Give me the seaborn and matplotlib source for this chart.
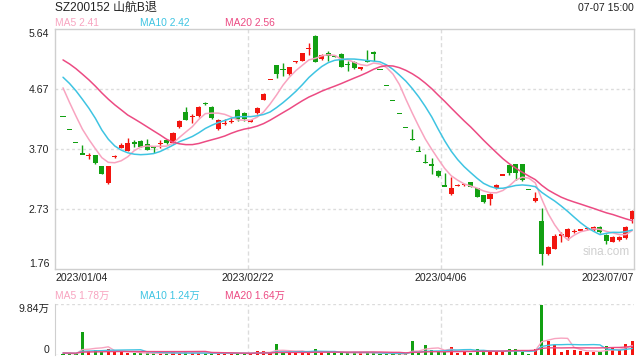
import numpy as np
import pandas as pd
import matplotlib
matplotlib.use("Agg")
import matplotlib.pyplot as plt
import seaborn as sns

sns.set_style("white")
plt.rcParams['font.family'] = ['Liberation Sans', 'Noto Sans CJK SC', 'DejaVu Sans']

# ---------------- data ----------------
opens = [4.22, 4.01, 3.81, 3.62, 3.59, 3.60, 3.43, 3.15, 3.57, 3.72,
         3.67, 3.81, 3.83, 3.78, 3.74, 3.78, 3.84, 3.79, 4.06, 4.30,
         4.21, 4.23, 4.45, 4.38, 4.02, 4.11, 4.15, 4.33, 4.29, 4.14,
         4.29, 4.49, 4.82, 5.06, 4.99, 4.91, 5.10, 5.13, 5.32, 5.52,
         5.16, 5.25, 5.21, 5.24, 5.07, 5.10, 4.99, 5.13, 5.27, 4.98,
         4.73, 4.49, 4.27, 4.05, 3.85, 3.66, 3.48, 3.45, 3.35, 3.10,
         2.98, 3.11, 3.11, 3.16, 3.07, 2.96, 2.89, 3.07, 3.28, 3.44,
         3.45, 3.45, 3.04, 2.86, 2.54, 2.01, 2.09, 2.30, 2.27, 2.36,
         2.38, 2.40, 2.39, 2.44, 2.31, 2.20, 2.23, 2.26, 2.57]
highs = [4.22, 4.01, 3.81, 3.77, 3.63, 3.60, 3.43, 3.43, 3.61, 3.80,
         3.87, 3.85, 3.85, 3.86, 3.74, 3.84, 3.85, 3.98, 4.17, 4.38,
         4.27, 4.39, 4.46, 4.40, 4.19, 4.18, 4.21, 4.35, 4.30, 4.17,
         4.38, 4.61, 4.82, 5.06, 5.09, 5.03, 5.13, 5.25, 5.42, 5.55,
         5.24, 5.28, 5.22, 5.25, 5.12, 5.12, 5.03, 5.30, 5.28, 4.98,
         4.73, 4.49, 4.27, 4.05, 4.03, 3.75, 3.62, 3.55, 3.36, 3.32,
         3.25, 3.14, 3.14, 3.17, 3.07, 2.96, 2.99, 3.13, 3.28, 3.44,
         3.45, 3.45, 3.04, 3.01, 2.74, 2.13, 2.33, 2.36, 2.43, 2.40,
         2.41, 2.44, 2.45, 2.45, 2.32, 2.29, 2.29, 2.45, 2.71]
lows = [4.22, 4.01, 3.81, 3.62, 3.54, 3.46, 3.29, 3.14, 3.55, 3.71,
        3.66, 3.73, 3.73, 3.68, 3.63, 3.72, 3.78, 3.78, 4.04, 4.17,
        4.12, 4.22, 4.41, 4.18, 4.00, 4.08, 4.12, 4.15, 4.16, 4.14,
        4.27, 4.49, 4.82, 4.85, 4.88, 4.90, 5.09, 5.12, 5.22, 5.10,
        5.14, 5.12, 5.19, 5.02, 4.96, 4.99, 4.98, 5.11, 5.12, 4.98,
        4.73, 4.49, 4.27, 4.05, 3.85, 3.66, 3.48, 3.30, 3.25, 3.10,
        2.95, 3.10, 3.10, 3.08, 2.93, 2.83, 2.80, 3.06, 3.28, 3.28,
        3.20, 3.19, 3.04, 2.85, 1.82, 1.99, 2.08, 2.19, 2.23, 2.35,
        2.37, 2.39, 2.38, 2.35, 2.16, 2.19, 2.22, 2.25, 2.50]
closes = [4.22, 4.01, 3.81, 3.62, 3.61, 3.47, 3.29, 3.43, 3.59, 3.77,
          3.79, 3.78, 3.73, 3.68, 3.73, 3.80, 3.79, 3.96, 4.16, 4.17,
          4.23, 4.38, 4.42, 4.20, 4.17, 4.13, 4.17, 4.18, 4.18, 4.17,
          4.37, 4.59, 4.82, 4.91, 4.97, 5.02, 5.12, 5.25, 5.34, 5.10,
          5.22, 5.21, 5.20, 5.03, 5.06, 5.01, 5.02, 5.12, 5.24, 4.98,
          4.73, 4.49, 4.27, 4.05, 3.85, 3.66, 3.48, 3.43, 3.26, 3.10,
          3.07, 3.12, 3.13, 3.09, 2.93, 2.84, 2.98, 3.12, 3.28, 3.31,
          3.31, 3.20, 3.04, 2.90, 2.01, 2.12, 2.30, 2.32, 2.41, 2.38,
          2.40, 2.42, 2.44, 2.36, 2.22, 2.28, 2.28, 2.44, 2.69]
volumes = [0.15, 0.15, 0.15, 4.4, 0.8, 1.0, 0.6, 1.2, 0.6, 0.6,
           0.35, 0.3, 0.4, 0.3, 0.4, 0.3, 0.35, 0.5, 0.4, 0.5,
           0.3, 0.4, 0.3, 0.35, 0.4, 0.3, 0.3, 0.3, 0.3, 0.3,
           0.8, 0.8, 0.3, 2.2, 0.5, 0.4, 0.4, 0.5, 0.5, 1.2,
           0.4, 0.5, 0.3, 0.5, 0.4, 0.5, 0.3, 0.5, 0.4, 0.2,
           0.2, 0.2, 0.2, 0.2, 2.8, 0.5, 2.0, 1.0, 0.6, 0.6,
           1.5, 0.4, 0.8, 0.4, 1.1, 0.7, 0.7, 0.6, 0.6, 1.2,
           1.2, 0.5, 0.2, 1.2, 9.84, 2.8, 2.0, 0.6, 1.0, 1.0,
           0.8, 0.6, 0.5, 0.6, 1.8, 1.5, 1.0, 2.2, 2.7]
# closes / volumes of the sessions before the first visible one (feed the moving averages)
pre_closes = [5.30, 5.35, 5.40, 5.45, 5.50, 5.48, 5.45, 5.42, 5.40, 5.45,
              5.01, 5.00, 5.00, 5.05, 5.10, 5.18, 4.92, 4.68, 4.44]
pre_volumes = [0.4] * 19

date_labels = ['2023/01/04', '2023/02/22', '2023/04/06', '2023/07/07']
price_ticks = [1.76, 2.73, 3.70, 4.67, 5.64]
title = 'SZ200152 山航B退'
time_label = '07-07 15:00'
price_ma_text = ['MA5 2.41', 'MA10 2.42', 'MA20 2.56']
vol_ma_text = ['MA5 1.78万', 'MA10 1.24万', 'MA20 1.64万']
vol_max_label = '9.84万'

# ---------------- styling ----------------
RED = '#f2150f'
GREEN = '#12a012'
MA_COLORS = ['#f8a4c0', '#3fc4e2', '#ec4b83']
GRID = '#dcdcdc'
SPINE = '#cfcfcf'
TXT = '#222222'

n = len(closes)
x = np.arange(n)
o = np.array(opens); c = np.array(closes); h = np.array(highs); l = np.array(lows)
prev = np.concatenate([[pre_closes[-1]], c[:-1]])
up = np.where(c > o, True, np.where(c < o, False, c >= prev))
colors = np.where(up, RED, GREEN)

allc = pd.Series(pre_closes + closes)
allv = pd.Series(pre_volumes + volumes)
mas = [allc.rolling(k).mean().values[-n:] for k in (5, 10, 20)]
vmas = [allv.rolling(k).mean().values[-n:] for k in (5, 10, 20)]

W, H = 640, 360
fig = plt.figure(figsize=(6.4, 3.6), dpi=100)
ax = fig.add_axes([55 / W, 1 - 269 / H, 579 / W, 240 / H])
axv = fig.add_axes([55 / W, 1 - 355 / H, 579 / W, 51 / H])

xlim = (-1.24, 88.26)
thirds = [xlim[0] + (xlim[1] - xlim[0]) * f for f in (1 / 3, 2 / 3)]

# ---- price panel ----
ax.set_xlim(*xlim)
ax.set_ylim(1.76, 5.64)
for yv in price_ticks[1:-1]:
    ax.axhline(yv, color=GRID, lw=1.0, ls=(0, (2, 2)), zorder=0)
for xv in thirds:
    ax.axvline(xv, color=GRID, lw=1.0, ls=(0, (3, 2)), zorder=0)

ax.vlines(x, l, h, colors=colors, lw=1.0, zorder=2)
body_h = np.maximum(np.abs(c - o), 0.02)
body_b = np.where(np.abs(c - o) < 0.02, np.minimum(o, c) - 0.01, np.minimum(o, c))
ax.bar(x, body_h, bottom=body_b, width=0.78, color=colors, linewidth=0, zorder=3)

for m, col in zip(mas, MA_COLORS):
    sns.lineplot(x=x, y=m, ax=ax, color=col, lw=1.1, zorder=4)

ax.set_yticks(price_ticks)
ax.set_yticklabels([f'{v:.2f}' for v in price_ticks])
ylabs = ax.get_yticklabels()
ylabs[0].set_va('bottom')
ylabs[-1].set_va('top')
xt = [xlim[0], thirds[0], thirds[1], xlim[1]]
ax.set_xticks(xt)
ax.set_xticklabels(date_labels)
xlabs = ax.get_xticklabels()
xlabs[0].set_ha('left')
xlabs[-1].set_ha('right')
ax.tick_params(axis='both', length=0, labelsize=7.6, colors=TXT)
ax.tick_params(axis='y', pad=4)
ax.tick_params(axis='x', pad=3)
for s in ax.spines.values():
    s.set_color(SPINE)
    s.set_linewidth(1.0)
ax.text(0.993, 0.045, 'sina.com', transform=ax.transAxes, ha='right', va='bottom',
        fontsize=8.5, color='#cfcfcf', zorder=1)

# ---- volume panel ----
axv.set_xlim(*xlim)
axv.set_ylim(0, 9.95)
for xv in thirds:
    axv.axvline(xv, color=GRID, lw=1.0, ls=(0, (3, 2)), zorder=0)
axv.bar(x, volumes, width=0.48, color=colors, linewidth=0, zorder=2)
for m, col in zip(vmas, MA_COLORS):
    sns.lineplot(x=x, y=m, ax=axv, color=col, lw=1.0, zorder=3)
axv.set_yticks([0, 9.95])
axv.set_yticklabels(['0', vol_max_label])
vl = axv.get_yticklabels()
vl[0].set_va('bottom')
vl[1].set_va('top')
axv.set_xticks([])
axv.tick_params(axis='both', length=0, labelsize=7.6, colors=TXT, pad=4)
axv.spines['top'].set_visible(False)
axv.spines['bottom'].set_visible(False)
axv.spines['right'].set_visible(False)
axv.spines['left'].set_color(SPINE)
axv.axhline(9.95, color=GRID, lw=1.0, ls=(0, (2, 2)), zorder=0)
axv.axhline(0.0, color=GRID, lw=1.0, ls=(0, (2, 2)), zorder=0)

# ---- header texts ----
fig.text(55 / W, 1 - 8 / H, title, ha='left', va='center', fontsize=8.6, color=TXT)
fig.text(634 / W, 1 - 8 / H, time_label, ha='right', va='center', fontsize=7.6, color=TXT)
for xp, t, col in zip((55, 140, 225), price_ma_text, MA_COLORS):
    fig.text(xp / W, 1 - 23 / H, t, ha='left', va='center', fontsize=7.4, color=col)
for xp, t, col in zip((55, 140, 225), vol_ma_text, MA_COLORS):
    fig.text(xp / W, 1 - 296 / H, t, ha='left', va='center', fontsize=7.4, color=col)

fig.savefig('out.png', dpi=100)
